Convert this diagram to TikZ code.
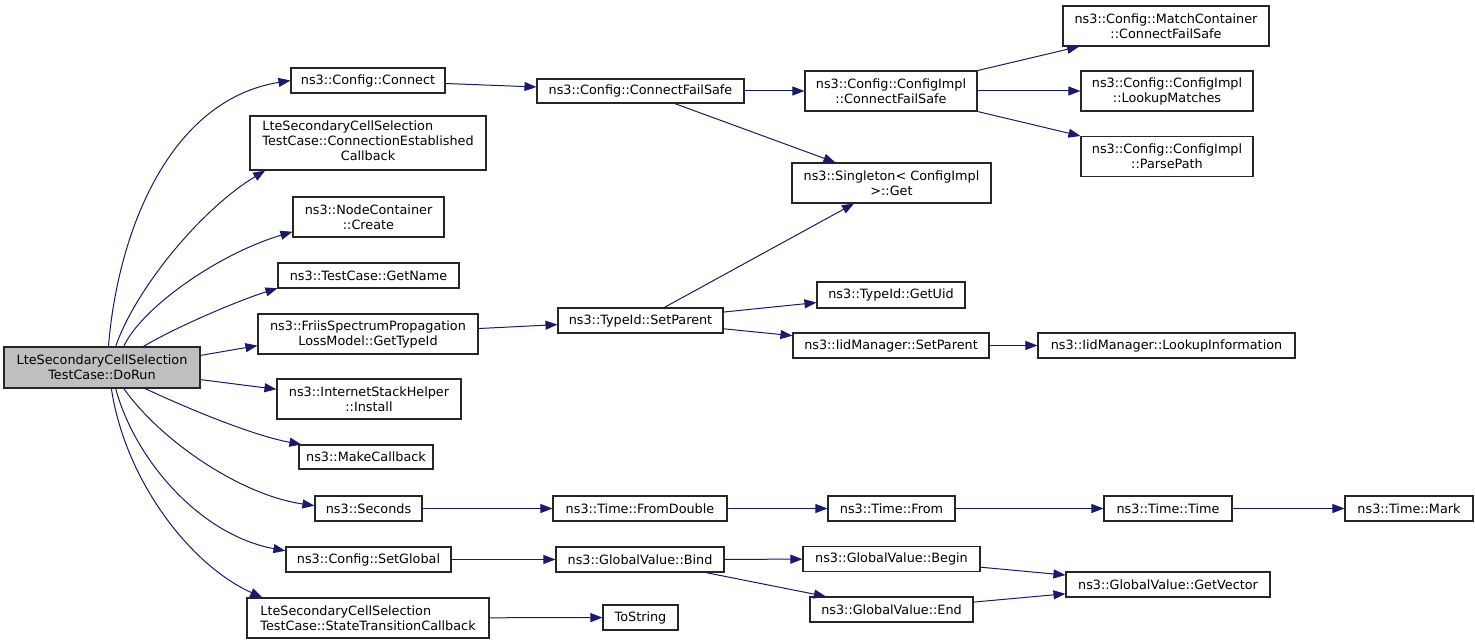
\documentclass[tikz,border=0pt]{standalone}
\usepackage{fontspec}
\setmainfont{DejaVu Sans}
\usetikzlibrary{arrows.meta,calc}
\definecolor{edgec}{HTML}{191970}
\definecolor{rootfill}{HTML}{BFBFBF}
\begin{document}
\begin{tikzpicture}[x=1pt,y=-1pt,
  box/.style={draw=black!85, line width=1.1pt, fill=white, inner sep=0pt,
    font=\fontsize{12.8}{15}\selectfont, align=center},
  call/.style={draw=edgec, line width=1pt, -{Triangle[length=12pt,width=9pt]}},
]
\useasboundingbox (0,0) rectangle (1475,644);
% column 1
\node[box, fill=rootfill, minimum width=196pt, minimum height=41pt] (dorun) at (102,367.5) {LteSecondaryCellSelection\\TestCase::DoRun};
% column 2
\node[box, minimum width=154pt, minimum height=25pt] (connect) at (368,80.5) {ns3::Config::Connect};
\node[box, minimum width=236pt, minimum height=54pt] (ce) at (368,143) {\begin{tabular}{@{}l@{}}LteSecondaryCellSelection\\TestCase::ConnectionEstablished\\\multicolumn{1}{@{}c@{}}{Callback}\end{tabular}};
\node[box, minimum width=151pt, minimum height=40pt] (nc) at (368.5,217) {ns3::NodeContainer\\::Create};
\node[box, minimum width=181pt, minimum height=25pt] (gn) at (368.5,275.5) {ns3::TestCase::GetName};
\node[box, minimum width=220pt, minimum height=40pt] (friis) at (368,334) {ns3::FriisSpectrumPropagation\\LossModel::GetTypeId};
\node[box, minimum width=184pt, minimum height=40pt] (isi) at (369,399) {ns3::InternetStackHelper\\::Install};
\node[box, minimum width=134pt, minimum height=24pt] (mcb) at (366,457) {ns3::MakeCallback};
\node[box, minimum width=107pt, minimum height=25pt] (sec) at (368.5,508.5) {ns3::Seconds};
\node[box, minimum width=165pt, minimum height=25pt] (sg) at (368.5,559.5) {ns3::Config::SetGlobal};
\node[box, minimum width=242pt, minimum height=40pt, align=left] (st) at (368,618) {LteSecondaryCellSelection\\TestCase::StateTransitionCallback};
% column 3
\node[box, minimum width=207pt, minimum height=24pt] (cfs) at (640.5,91) {ns3::Config::ConnectFailSafe};
\node[box, minimum width=165pt, minimum height=25pt] (sp) at (640.5,320.5) {ns3::TypeId::SetParent};
\node[box, minimum width=174pt, minimum height=25pt] (fd) at (640,508.5) {ns3::Time::FromDouble};
\node[box, minimum width=168pt, minimum height=25pt] (bind) at (640,559.5) {ns3::GlobalValue::Bind};
\node[box, minimum width=75pt, minimum height=25pt] (ts) at (640.5,617.5) {ToString};
% column 4
\node[box, minimum width=172pt, minimum height=40pt] (cicfs) at (891,91) {ns3::Config::ConfigImpl\\::ConnectFailSafe};
\node[box, minimum width=199pt, minimum height=40pt] (sing) at (891.5,183) {ns3::Singleton< ConfigImpl\\>::Get};
\node[box, minimum width=148pt, minimum height=26pt] (uid) at (891,295) {ns3::TypeId::GetUid};
\node[box, minimum width=196pt, minimum height=25pt] (iid) at (891,345.5) {ns3::IidManager::SetParent};
\node[box, minimum width=127pt, minimum height=25pt] (from) at (891.5,508.5) {ns3::Time::From};
\node[box, minimum width=177pt, minimum height=25pt] (begin) at (891.5,559) {ns3::GlobalValue::Begin};
\node[box, minimum width=163pt, minimum height=25pt] (gend) at (891.5,609.5) {ns3::GlobalValue::End};
% column 5
\node[box, minimum width=206pt, minimum height=40pt] (match) at (1166,26) {ns3::Config::MatchContainer\\::ConnectFailSafe};
\node[box, minimum width=172pt, minimum height=40pt] (lm) at (1167,91) {ns3::Config::ConfigImpl\\::LookupMatches};
\node[box, minimum width=172pt, minimum height=40pt] (pp) at (1167,156.5) {ns3::Config::ConfigImpl\\::ParsePath};
\node[box, minimum width=257pt, minimum height=25pt] (li) at (1166.5,345.5) {ns3::IidManager::LookupInformation};
\node[box, minimum width=128pt, minimum height=25pt] (time) at (1168,508.5) {ns3::Time::Time};
\node[box, minimum width=204pt, minimum height=25pt] (gv) at (1168,584.5) {ns3::GlobalValue::GetVector};
% column 6
\node[box, minimum width=128pt, minimum height=25pt] (mark) at (1409,508.5) {ns3::Time::Mark};

% curved calls from DoRun
\draw[call] (dorun.73.7) .. controls (118,230) and (170,100) .. (connect.west);
\draw[call] (dorun.57.6) .. controls (135,290) and (200,210) .. (ce.195.1);
\draw[call] (dorun.44.3) .. controls (140,310) and (215,255) .. (nc.191.2);
\draw[call] (dorun.27.1) .. controls (180,325) and (240,300) .. (gn.188.9);
\draw[call] (dorun.7.8) -- (friis.186.7);
\draw[call] (dorun.-7.3) -- (isi.174.4);
\draw[call] (dorun.-26.6) .. controls (180,405) and (250,435) .. (mcb.169.8);
\draw[call] (dorun.-44.3) .. controls (160,440) and (240,495) .. (sec.177.3);
\draw[call] (dorun.-57.6) .. controls (135,460) and (200,535) .. (sg.174.1);
\draw[call] (dorun.-66.3) .. controls (125,480) and (190,565) .. (st.169);

% other calls
\draw[call] (connect) -- (cfs);
\draw[call] (cfs) -- (cicfs);
\draw[call] (cfs) -- (sing);
\draw[call] (cicfs) -- (match);
\draw[call] (cicfs) -- (lm);
\draw[call] (cicfs) -- (pp);
\draw[call] (friis) -- (sp);
\draw[call] (sp) -- (sing);
\draw[call] (sp) -- (uid);
\draw[call] (sp) -- (iid);
\draw[call] (iid) -- (li);
\draw[call] (sec) -- (fd);
\draw[call] (fd) -- (from);
\draw[call] (from) -- (time);
\draw[call] (time) -- (mark);
\draw[call] (sg) -- (bind);
\draw[call] (bind) -- (begin);
\draw[call] (bind) -- (gend);
\draw[call] (begin) -- (gv);
\draw[call] (gend) -- (gv);
\draw[call] (st) -- (ts);
\end{tikzpicture}
\end{document}
